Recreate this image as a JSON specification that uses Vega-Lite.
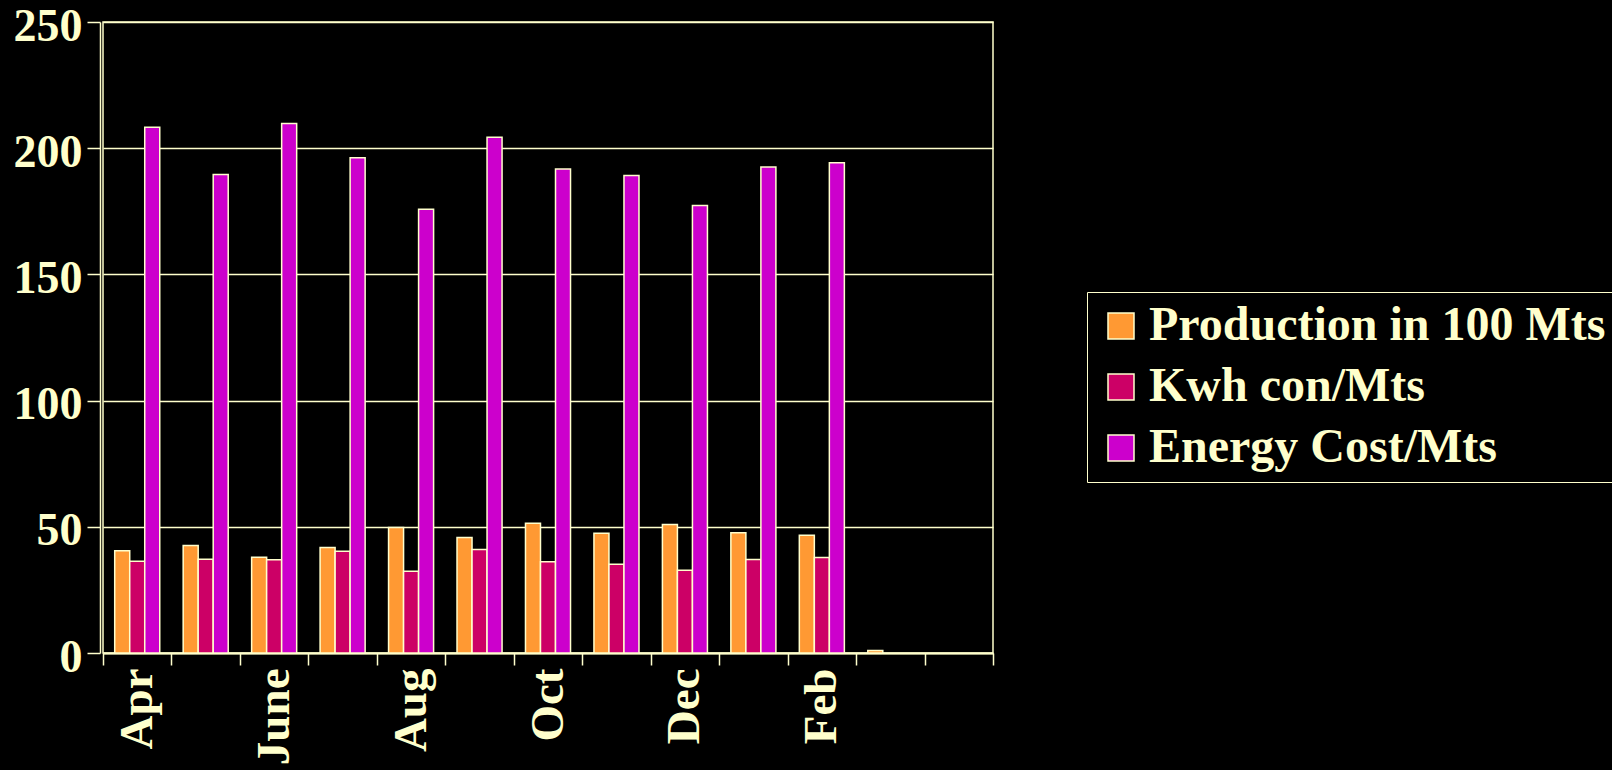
{
  "$schema": "https://vega.github.io/schema/vega-lite/v6.json",
  "autosize": "none",
  "width": 890,
  "height": 631,
  "padding": {"left": 103, "top": 22, "right": 619, "bottom": 117},
  "background": "#000000",
  "config": {
    "view": {"stroke": "#FFFFCC", "strokeWidth": 1.5},
    "font": "Liberation Serif"
  },
  "data": {
    "values": [
      {"month": "Apr", "series": "Production in 100 Mts", "value": 40.5},
      {"month": "Apr", "series": "Kwh con/Mts", "value": 36.4},
      {"month": "Apr", "series": "Energy Cost/Mts", "value": 208.3},
      {"month": "May", "series": "Production in 100 Mts", "value": 42.6},
      {"month": "May", "series": "Kwh con/Mts", "value": 37.1},
      {"month": "May", "series": "Energy Cost/Mts", "value": 189.6},
      {"month": "June", "series": "Production in 100 Mts", "value": 37.9},
      {"month": "June", "series": "Kwh con/Mts", "value": 36.9},
      {"month": "June", "series": "Energy Cost/Mts", "value": 209.8},
      {"month": "July", "series": "Production in 100 Mts", "value": 41.8},
      {"month": "July", "series": "Kwh con/Mts", "value": 40.3},
      {"month": "July", "series": "Energy Cost/Mts", "value": 196.2},
      {"month": "Aug", "series": "Production in 100 Mts", "value": 49.7},
      {"month": "Aug", "series": "Kwh con/Mts", "value": 32.4},
      {"month": "Aug", "series": "Energy Cost/Mts", "value": 175.8},
      {"month": "Sep", "series": "Production in 100 Mts", "value": 45.8},
      {"month": "Sep", "series": "Kwh con/Mts", "value": 41.0},
      {"month": "Sep", "series": "Energy Cost/Mts", "value": 204.3},
      {"month": "Oct", "series": "Production in 100 Mts", "value": 51.4},
      {"month": "Oct", "series": "Kwh con/Mts", "value": 36.2},
      {"month": "Oct", "series": "Energy Cost/Mts", "value": 191.8},
      {"month": "Nov", "series": "Production in 100 Mts", "value": 47.4},
      {"month": "Nov", "series": "Kwh con/Mts", "value": 35.2},
      {"month": "Nov", "series": "Energy Cost/Mts", "value": 189.2},
      {"month": "Dec", "series": "Production in 100 Mts", "value": 50.9},
      {"month": "Dec", "series": "Kwh con/Mts", "value": 32.8},
      {"month": "Dec", "series": "Energy Cost/Mts", "value": 177.3},
      {"month": "Jan", "series": "Production in 100 Mts", "value": 47.6},
      {"month": "Jan", "series": "Kwh con/Mts", "value": 37.0},
      {"month": "Jan", "series": "Energy Cost/Mts", "value": 192.6},
      {"month": "Feb", "series": "Production in 100 Mts", "value": 46.7},
      {"month": "Feb", "series": "Kwh con/Mts", "value": 37.8},
      {"month": "Feb", "series": "Energy Cost/Mts", "value": 194.2},
      {"month": "Mar", "series": "Production in 100 Mts", "value": 1.0}
    ]
  },
  "mark": {"type": "bar", "stroke": "#FFFFCC", "strokeWidth": 1.5},
  "encoding": {
    "x": {
      "field": "month",
      "type": "nominal",
      "sort": null,
      "scale": {
        "domain": ["Apr", "May", "June", "July", "Aug", "Sep", "Oct", "Nov", "Dec", "Jan", "Feb", "Mar", " "],
        "paddingInner": 0,
        "paddingOuter": 0
      },
      "axis": {
        "title": null,
        "tickBand": "extent",
        "labelExpr": "indexof(['Apr','June','Aug','Oct','Dec','Feb'], datum.value) >= 0 ? datum.value : ''",
        "labelAngle": 270,
        "labelFontSize": 47,
        "labelFontWeight": "bold",
        "labelFont": "Liberation Serif",
        "labelColor": "#FFFFCC",
        "labelPadding": 3,
        "tickSize": 12,
        "tickColor": "#FFFFCC",
        "tickWidth": 1.5,
        "domainColor": "#FFFFCC",
        "domainWidth": 2,
        "labelOverlap": false
      }
    },
    "xOffset": {
      "field": "series",
      "type": "nominal",
      "sort": ["Production in 100 Mts", "Kwh con/Mts", "Energy Cost/Mts"],
      "scale": {"paddingInner": 0, "paddingOuter": 0.78}
    },
    "y": {
      "field": "value",
      "type": "quantitative",
      "scale": {"domain": [0, 250], "nice": false},
      "axis": {
        "title": null,
        "values": [0, 50, 100, 150, 200, 250],
        "offset": 3,
        "labelFontSize": 46,
        "labelFontWeight": "bold",
        "labelFont": "Liberation Serif",
        "labelColor": "#FFFFCC",
        "labelPadding": 5,
        "labelOffset": 4,
        "tickSize": 13,
        "tickColor": "#FFFFCC",
        "tickWidth": 1.5,
        "domainColor": "#FFFFCC",
        "domainWidth": 1.5,
        "gridColor": "#FFFFCC",
        "gridWidth": 1.5,
        "gridOpacity": 1
      }
    },
    "color": {
      "field": "series",
      "type": "nominal",
      "sort": ["Production in 100 Mts", "Kwh con/Mts", "Energy Cost/Mts"],
      "scale": {
        "domain": ["Production in 100 Mts", "Kwh con/Mts", "Energy Cost/Mts"],
        "range": ["#FF9933", "#CC0066", "#CC00CC"]
      },
      "legend": {
        "title": null,
        "orient": "none",
        "legendX": 984,
        "legendY": 270,
        "symbolType": "square",
        "symbolSize": 676,
        "symbolStrokeColor": "#FFFFCC",
        "symbolStrokeWidth": 1.5,
        "labelFontSize": 48,
        "labelFontWeight": "bold",
        "labelFont": "Liberation Serif",
        "labelColor": "#FFFFCC",
        "labelOffset": 4,
        "labelLimit": 0,
        "rowPadding": 13,
        "padding": 10,
        "strokeColor": "#FFFFCC",
        "fillColor": "#000000"
      }
    }
  }
}
